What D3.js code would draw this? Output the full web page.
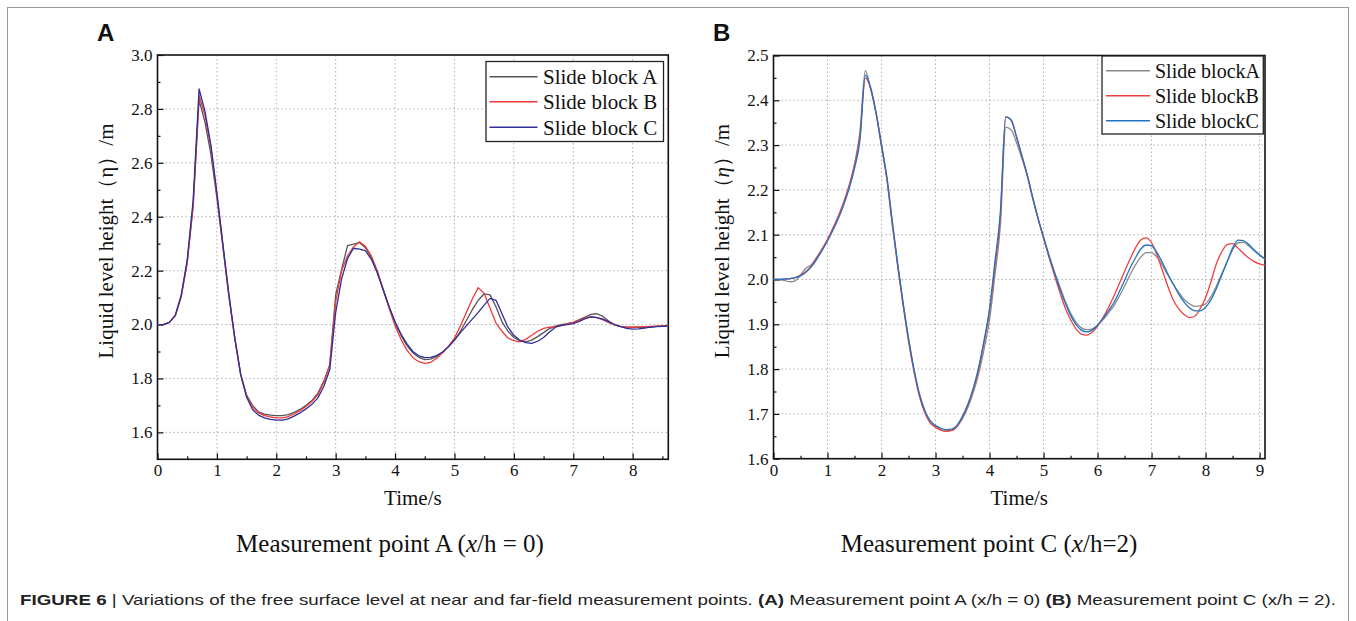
<!DOCTYPE html>
<html>
<head>
<meta charset="utf-8">
<script src="https://cdn.jsdelivr.net/npm/d3@7"></script>
<style>
  body { margin: 0; background: #fff; }
  svg { display: block; }
</style>
</head>
<body>
<div id="container"></div>
<script>
// ---- data ----
const timeA = [0,0.1,0.2,0.3,0.4,0.5,0.6,0.7,0.8,0.9,1,1.1,1.2,1.3,1.4,1.5,1.6,1.7,1.8,1.9,2,2.1,2.2,2.3,2.4,2.5,2.6,2.7,2.8,2.9,3,3.1,3.2,3.3,3.4,3.5,3.6,3.7,3.8,3.9,4,4.1,4.2,4.3,4.4,4.5,4.6,4.7,4.8,4.9,5,5.1,5.2,5.3,5.4,5.5,5.6,5.7,5.8,5.9,6,6.1,6.2,6.3,6.4,6.5,6.6,6.7,6.8,6.9,7,7.1,7.2,7.3,7.4,7.5,7.6,7.7,7.8,7.9,8,8.1,8.2,8.3,8.4,8.5,8.6];

const pointA_blockA = [2.000,2.000,2.008,2.033,2.105,2.23,2.44,2.833,2.75,2.63,2.47,2.29,2.11,1.95,1.815,1.738,1.700,1.676,1.668,1.664,1.662,1.662,1.666,1.674,1.685,1.700,1.718,1.745,1.790,1.850,2.110,2.205,2.293,2.298,2.304,2.285,2.250,2.195,2.130,2.065,2.005,1.960,1.922,1.895,1.878,1.870,1.872,1.882,1.897,1.918,1.942,1.975,2.015,2.055,2.090,2.114,2.110,2.065,2.010,1.975,1.952,1.940,1.936,1.942,1.955,1.970,1.985,1.994,2.000,2.003,2.008,2.018,2.028,2.038,2.040,2.030,2.012,1.998,1.992,1.990,1.990,1.990,1.990,1.991,1.993,1.995,1.996];
const pointA_blockB = [2.000,2.000,2.008,2.033,2.105,2.23,2.44,2.850,2.775,2.655,2.48,2.295,2.11,1.95,1.815,1.735,1.695,1.672,1.662,1.657,1.654,1.654,1.658,1.668,1.680,1.696,1.714,1.740,1.785,1.850,2.085,2.200,2.255,2.288,2.307,2.290,2.255,2.200,2.130,2.060,1.995,1.945,1.905,1.877,1.862,1.856,1.860,1.875,1.895,1.920,1.950,1.995,2.045,2.095,2.137,2.115,2.060,2.005,1.975,1.950,1.940,1.936,1.945,1.960,1.975,1.986,1.990,1.992,1.996,2.002,2.008,2.016,2.024,2.029,2.026,2.017,2.007,1.998,1.993,1.990,1.990,1.991,1.992,1.993,1.994,1.995,1.995];
const pointA_blockC = [2.000,2.000,2.008,2.035,2.11,2.24,2.46,2.874,2.790,2.665,2.49,2.300,2.115,1.952,1.815,1.730,1.685,1.664,1.654,1.648,1.645,1.645,1.650,1.660,1.672,1.687,1.704,1.728,1.770,1.832,2.045,2.170,2.245,2.283,2.280,2.274,2.242,2.192,2.128,2.066,2.010,1.965,1.928,1.900,1.884,1.877,1.878,1.885,1.898,1.918,1.942,1.970,1.995,2.020,2.045,2.072,2.097,2.090,2.040,1.990,1.960,1.942,1.933,1.930,1.938,1.952,1.972,1.990,1.997,2.000,2.003,2.012,2.022,2.028,2.026,2.020,2.010,2.000,1.992,1.986,1.983,1.984,1.987,1.990,1.992,1.993,1.994];

const timeB = [0,0.1,0.2,0.3,0.4,0.5,0.6,0.7,0.8,0.9,1,1.1,1.2,1.3,1.4,1.5,1.6,1.7,1.8,1.9,2,2.1,2.2,2.3,2.4,2.5,2.6,2.7,2.8,2.9,3,3.1,3.2,3.3,3.4,3.5,3.6,3.7,3.8,3.9,4,4.1,4.2,4.3,4.4,4.5,4.6,4.7,4.8,4.9,5,5.1,5.2,5.3,5.4,5.5,5.6,5.7,5.8,5.9,6,6.1,6.2,6.3,6.4,6.5,6.6,6.7,6.8,6.9,7,7.1,7.2,7.3,7.4,7.5,7.6,7.7,7.8,7.9,8,8.1,8.2,8.3,8.4,8.5,8.6,8.7,8.8,8.9,9,9.1];

const pointC_blockA = [2.000,2.000,1.998,1.995,1.997,2.010,2.025,2.033,2.050,2.068,2.088,2.112,2.138,2.170,2.208,2.258,2.330,2.466,2.425,2.370,2.295,2.222,2.120,2.030,1.945,1.868,1.800,1.745,1.708,1.684,1.672,1.665,1.662,1.663,1.672,1.690,1.715,1.748,1.790,1.845,1.910,2.010,2.120,2.340,2.334,2.305,2.270,2.230,2.180,2.135,2.095,2.055,2.018,1.985,1.952,1.925,1.905,1.892,1.888,1.890,1.898,1.910,1.925,1.941,1.962,1.985,2.010,2.032,2.050,2.060,2.060,2.050,2.032,2.010,1.990,1.972,1.956,1.946,1.940,1.941,1.946,1.962,1.985,2.013,2.040,2.066,2.082,2.083,2.075,2.064,2.054,2.045];
const pointC_blockB = [2.000,2.000,2.001,2.002,2.004,2.010,2.018,2.030,2.048,2.068,2.090,2.115,2.142,2.173,2.210,2.255,2.320,2.450,2.425,2.370,2.300,2.225,2.125,2.030,1.942,1.862,1.795,1.740,1.703,1.680,1.670,1.664,1.661,1.663,1.673,1.693,1.720,1.755,1.800,1.860,1.930,2.030,2.140,2.363,2.356,2.318,2.275,2.232,2.182,2.135,2.092,2.050,2.010,1.972,1.937,1.910,1.890,1.878,1.876,1.882,1.896,1.915,1.937,1.962,1.990,2.018,2.045,2.070,2.088,2.093,2.082,2.055,2.020,1.985,1.955,1.935,1.922,1.915,1.918,1.935,1.960,1.995,2.035,2.062,2.078,2.080,2.070,2.058,2.048,2.040,2.035,2.032];
const pointC_blockC = [2.000,2.000,2.001,2.002,2.004,2.008,2.016,2.028,2.045,2.065,2.086,2.110,2.136,2.167,2.203,2.248,2.310,2.456,2.428,2.372,2.300,2.228,2.130,2.035,1.948,1.868,1.800,1.745,1.707,1.685,1.674,1.668,1.665,1.666,1.675,1.695,1.722,1.758,1.805,1.865,1.935,2.040,2.150,2.363,2.356,2.318,2.276,2.233,2.183,2.136,2.094,2.053,2.016,1.980,1.948,1.920,1.900,1.887,1.883,1.887,1.898,1.913,1.930,1.948,1.972,1.998,2.025,2.048,2.068,2.077,2.075,2.060,2.038,2.013,1.990,1.968,1.950,1.937,1.930,1.930,1.938,1.955,1.980,2.010,2.040,2.070,2.088,2.087,2.078,2.066,2.055,2.046];

const xTicksA = [0,1,2,3,4,5,6,7,8];
const yTicksA = [1.6,1.8,2.0,2.2,2.4,2.6,2.8,3.0];
const xTicksB = [0,1,2,3,4,5,6,7,8,9];
const yTicksB = [1.6,1.7,1.8,1.9,2.0,2.1,2.2,2.3,2.4,2.5];

const legendA = ["Slide block A","Slide block B","Slide block C"];
const legendB = ["Slide blockA","Slide blockB","Slide blockC"];
// ---- end data ----

let w = 1356;
let h = 621;
const serif = "'Liberation Serif','Times New Roman',serif";
const sans = "'Liberation Sans',Arial,sans-serif";

let svg = d3.select("#container")
  .append("svg")
    .attr("width", w)
    .attr("height", h)
    .attr("font-family", serif);

// outer frame of the figure
svg.append("rect")
  .attr("x", 7.5).attr("y", 7.5)
  .attr("width", 1341).attr("height", 700)
  .attr("fill", "none").attr("stroke", "#9a9a9a").attr("stroke-width", 1);

function drawPanel(p) {
  let x = d3.scaleLinear().domain(p.xDomain).range([p.left, p.right]);
  let y = d3.scaleLinear().domain(p.yDomain).range([p.bottom, p.top]);
  let g = svg.append("g");

  // dotted grid
  g.append("g").selectAll("line")
    .data(p.xTicks.filter(d => d > p.xDomain[0] && d < p.xDomain[1]))
    .join("line")
      .attr("x1", d => x(d)).attr("x2", d => x(d))
      .attr("y1", p.top).attr("y2", p.bottom)
      .attr("stroke", "#b0b0b0").attr("stroke-dasharray", "1.5,2.5");
  g.append("g").selectAll("line")
    .data(p.yTicks.filter(d => d > p.yDomain[0] + 1e-9 && d < p.yDomain[1] - 1e-9))
    .join("line")
      .attr("x1", p.left).attr("x2", p.right)
      .attr("y1", d => y(d)).attr("y2", d => y(d))
      .attr("stroke", "#b0b0b0").attr("stroke-dasharray", "1.5,2.5");

  // minor ticks (inward)
  let minorX = g.append("g").attr("transform", `translate(0,${p.bottom})`)
    .call(d3.axisBottom(x).tickValues(p.xTicks.map(d => d + 0.5).filter(d => d < p.xDomain[1]))
      .tickSize(-3).tickFormat(""));
  let minorY = g.append("g").attr("transform", `translate(${p.left},0)`)
    .call(d3.axisLeft(y).tickValues(p.yTicks.slice(0, -1).map(d => d + p.yStep / 2))
      .tickSize(-3).tickFormat(""));

  // major axes
  let xa = g.append("g").attr("transform", `translate(0,${p.bottom})`)
    .call(d3.axisBottom(x).tickValues(p.xTicks).tickSize(-6).tickSizeOuter(0)
      .tickPadding(5).tickFormat(d3.format("d")));
  let ya = g.append("g").attr("transform", `translate(${p.left},0)`)
    .call(d3.axisLeft(y).tickValues(p.yTicks).tickSize(-6).tickSizeOuter(0)
      .tickPadding(5).tickFormat(d3.format(".1f")));
  [xa, ya, minorX, minorY].forEach(a => {
    a.attr("font-family", serif).attr("font-size", 17);
    a.select(".domain").remove();
    a.selectAll("line").attr("stroke", "#111").attr("stroke-width", 1.2);
    a.selectAll("text").attr("fill", "#111");
  });

  // plot frame
  g.append("rect")
    .attr("x", p.left).attr("y", p.top)
    .attr("width", p.right - p.left).attr("height", p.bottom - p.top)
    .attr("fill", "none").attr("stroke", "#111").attr("stroke-width", 1.6);

  // series
  let line = d3.line()
    .x((d, i) => x(p.time[i]))
    .y(d => y(d))
    .curve(p.curve);
  p.series.forEach((s, i) => {
    g.append("path")
      .datum(s)
      .attr("fill", "none")
      .attr("stroke", p.colors[i])
      .attr("stroke-width", 1.3)
      .attr("stroke-linejoin", "round")
      .attr("d", line);
  });

  // legend
  let lg = p.legend;
  g.append("rect")
    .attr("x", lg.x).attr("y", lg.y).attr("width", lg.w).attr("height", lg.h)
    .attr("fill", "#fff").attr("stroke", "#222").attr("stroke-width", 1.3);
  p.names.forEach((n, i) => {
    let cy = lg.rows[i];
    g.append("line")
      .attr("x1", lg.lineX[0]).attr("x2", lg.lineX[1])
      .attr("y1", cy).attr("y2", cy)
      .attr("stroke", p.colors[i]).attr("stroke-width", 1.4);
    g.append("text")
      .attr("x", lg.textX).attr("y", cy).attr("dy", "0.35em")
      .attr("font-size", lg.fontSize).attr("fill", "#111")
      .text(n);
  });

  // axis titles
  g.append("text")
    .attr("x", (p.left + p.right) / 2).attr("y", 505)
    .attr("text-anchor", "middle").attr("font-size", 21).attr("fill", "#111")
    .text("Time/s");
  let yl = g.append("text")
    .attr("transform", `translate(${p.left - 45},241) rotate(-90)`)
    .attr("text-anchor", "middle").attr("font-size", 21).attr("fill", "#111");
  yl.append("tspan").text("Liquid level height（");
  yl.append("tspan").attr("font-style", p.etaItalic ? "italic" : "normal").text("η");
  yl.append("tspan").text("）/m");

  // panel letter
  g.append("text")
    .attr("x", p.letterX).attr("y", 41)
    .attr("font-family", sans).attr("font-weight", "bold").attr("font-size", 24)
    .attr("fill", "#111")
    .text(p.letter);

  // sub caption
  let sc = g.append("text")
    .attr("x", p.subX).attr("y", 552)
    .attr("text-anchor", "middle").attr("font-size", 25).attr("fill", "#111");
  sc.append("tspan").text(p.sub[0]);
  sc.append("tspan").attr("font-style", "italic").text("x");
  sc.append("tspan").text(p.sub[1]);
}

drawPanel({
  left: 157.5, right: 668.3, top: 55, bottom: 459.3,
  xDomain: [0, 8.6], yDomain: [1.5, 3.0], yStep: 0.2,
  xTicks: xTicksA, yTicks: yTicksA,
  time: timeA,
  series: [pointA_blockA, pointA_blockB, pointA_blockC],
  colors: ["#555555", "#ee3b3b", "#2e2e9c"],
  curve: d3.curveLinear,
  names: legendA,
  legend: { x: 486, y: 61.5, w: 177.5, h: 80, lineX: [489.5, 537.5], textX: 543, rows: [76.7, 101.7, 127.3], fontSize: 21 },
  etaItalic: false,
  letter: "A", letterX: 97,
  sub: ["Measurement point A (", "/h = 0)"], subX: 390
});

drawPanel({
  left: 773.5, right: 1265, top: 55.5, bottom: 458.7,
  xDomain: [0, 9.1], yDomain: [1.6, 2.5], yStep: 0.1,
  xTicks: xTicksB, yTicks: yTicksB,
  time: timeB,
  series: [pointC_blockA, pointC_blockB, pointC_blockC],
  colors: ["#8a8a8a", "#ee4040", "#2272c3"],
  curve: d3.curveMonotoneX,
  names: legendB,
  legend: { x: 1102, y: 56, w: 161.3, h: 78, lineX: [1106, 1150], textX: 1155, rows: [70.7, 95.7, 120.7], fontSize: 20 },
  etaItalic: true,
  letter: "B", letterX: 713,
  sub: ["Measurement point C (", "/h=2)"], subX: 989
});

// figure caption
let cap = svg.append("text")
  .attr("x", 20).attr("y", 605)
  .attr("font-family", sans).attr("font-size", 15).attr("fill", "#222")
  .attr("textLength", 1316).attr("lengthAdjust", "spacingAndGlyphs");
cap.append("tspan").attr("font-weight", "bold").text("FIGURE 6");
cap.append("tspan").text(" | Variations of the free surface level at near and far-field measurement points. ");
cap.append("tspan").attr("font-weight", "bold").text("(A)");
cap.append("tspan").text(" Measurement point A (x/h = 0) ");
cap.append("tspan").attr("font-weight", "bold").text("(B)");
cap.append("tspan").text(" Measurement point C (x/h = 2).");
</script>
</body>
</html>
